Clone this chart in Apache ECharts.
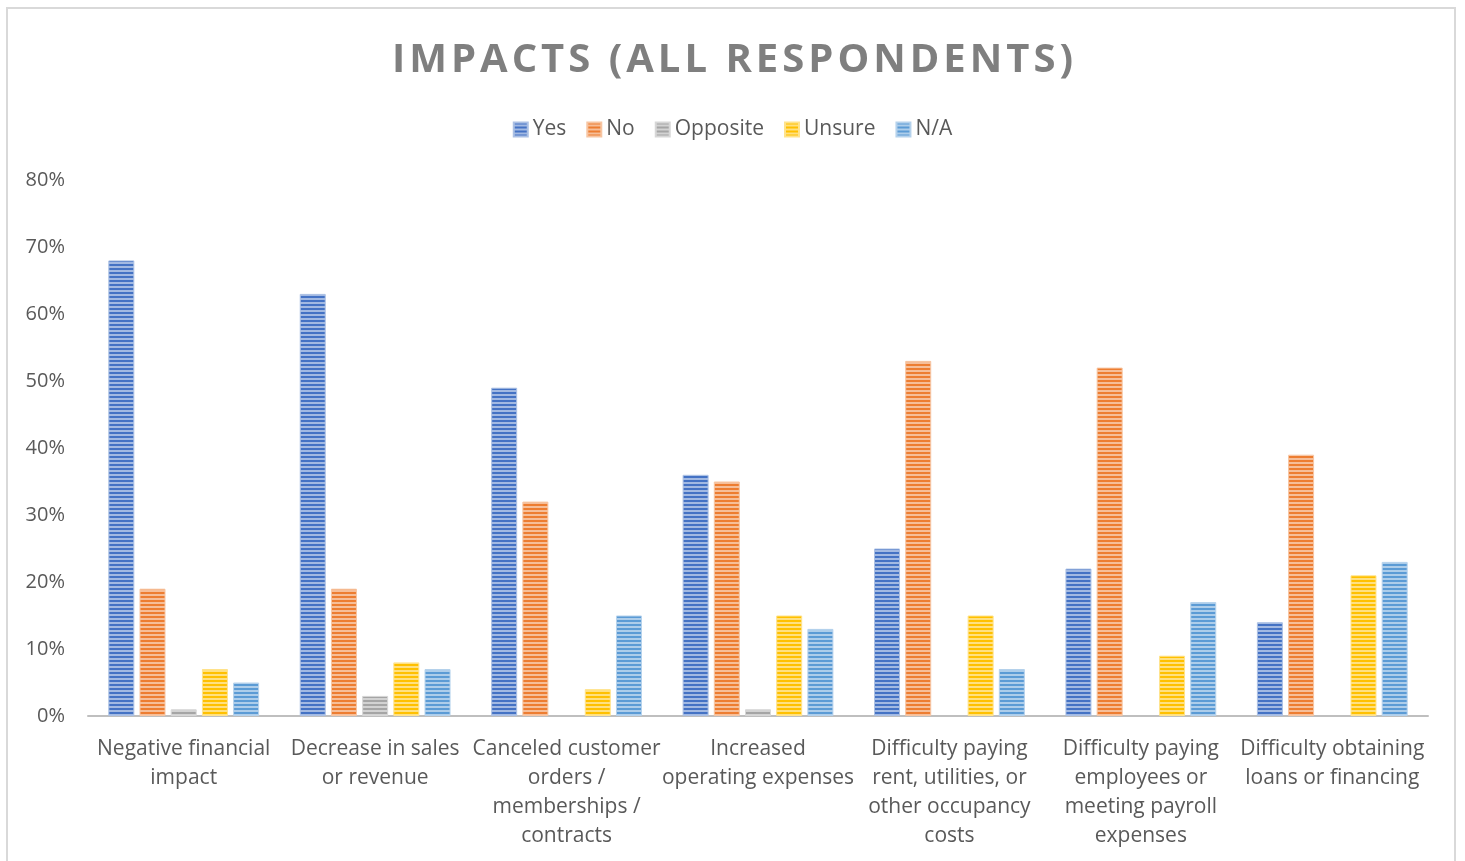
<!DOCTYPE html>
<html>
<head>
<meta charset="utf-8">
<script src="https://cdn.jsdelivr.net/npm/echarts@6/dist/echarts.min.js"></script>
<style>
html,body{margin:0;padding:0;background:#fff;}
#c{width:1465px;height:861px;}
#frame{position:absolute;left:6px;top:7px;width:1450px;height:870px;border:2px solid #d9d9d9;border-bottom:none;box-sizing:border-box;pointer-events:none;}
</style>
</head>
<body>
<div id="c"></div>
<div id="frame"></div>
<script>
const titleText = 'IMPACTS (ALL RESPONDENTS)';
const categories = [
  'Negative financial\nimpact',
  'Decrease in sales\nor revenue',
  'Canceled customer\norders /\nmemberships /\ncontracts',
  'Increased\noperating expenses',
  'Difficulty paying\nrent, utilities, or\nother occupancy\ncosts',
  'Difficulty paying\nemployees or\nmeeting payroll\nexpenses',
  'Difficulty obtaining\nloans or financing'
];
const seriesNames = ['Yes', 'No', 'Opposite', 'Unsure', 'N/A'];
const yesVals      = [68, 63, 49, 36, 25, 22, 14];
const noVals       = [19, 19, 32, 35, 53, 52, 39];
const oppositeVals = [1, 3, 0, 1, 0, 0, 0];
const unsureVals   = [7, 8, 4, 15, 15, 9, 21];
const naVals       = [5, 7, 15, 13, 7, 17, 23];
const yTicks = [0, 10, 20, 30, 40, 50, 60, 70, 80];

const baseColors = ['#4472C4', '#ED7D31', '#A5A5A5', '#FFC000', '#5B9BD5'];
const allVals = [yesVals, noVals, oppositeVals, unsureVals, naVals];

function tint(hex, f) {
  const n = parseInt(hex.slice(1), 16);
  const r = (n >> 16) & 255, g = (n >> 8) & 255, b = n & 255;
  const m = c => Math.round(c + (255 - c) * f);
  return 'rgb(' + m(r) + ',' + m(g) + ',' + m(b) + ')';
}
function stripe(hex) {
  const cv = document.createElement('canvas');
  cv.width = 4; cv.height = 4;
  const ctx = cv.getContext('2d');
  ctx.fillStyle = tint(hex, 0.5);
  ctx.fillRect(0, 0, 4, 4);
  ctx.fillStyle = hex;
  ctx.fillRect(0, 0, 4, 2);
  return { image: cv, repeat: 'repeat' };
}

let titleRich = '';
for (const ch of titleText) titleRich += '{t|' + ch + '}';

const chart = echarts.init(document.getElementById('c'), null, { renderer: 'canvas' });
chart.setOption({
  backgroundColor: '#ffffff',
  animation: false,
  title: {
    text: titleRich,
    left: 'center',
    top: 36,
    textStyle: {
      rich: {
        t: { fontFamily: 'Open Sans', fontWeight: 'bold', fontSize: 40, color: '#7f7f7f', padding: [0, 2, 0, 2] }
      }
    }
  },
  legend: {
    top: 114,
    left: 'center',
    itemWidth: 14,
    itemHeight: 14,
    itemGap: 20,
    icon: 'rect',
    textStyle: { fontFamily: 'Open Sans', fontSize: 21, color: '#595959' },
    data: seriesNames
  },
  grid: { left: 88, right: 37, top: 180, bottom: 145, containLabel: false },
  xAxis: {
    type: 'category',
    data: categories,
    axisLine: { show: true, lineStyle: { color: '#bfbfbf', width: 2 } },
    axisTick: { show: false },
    axisLabel: {
      interval: 0,
      margin: 19,
      fontFamily: 'Open Sans',
      fontSize: 21,
      lineHeight: 29,
      color: '#595959',
      align: 'center'
    }
  },
  yAxis: {
    type: 'value',
    min: 0,
    max: 80,
    interval: 10,
    axisLine: { show: false },
    axisTick: { show: false },
    splitLine: { show: false },
    axisLabel: {
      margin: 23,
      fontFamily: 'Open Sans',
      fontSize: 20,
      color: '#595959',
      formatter: v => yTicks.includes(v) ? v + '%' : ''
    }
  },
  series: seriesNames.map((name, i) => ({
    name: name,
    type: 'bar',
    data: allVals[i].map(v => v === 0 ? { value: v, itemStyle: { borderWidth: 0 } } : v),
    barWidth: 26,
    barGap: '20%',
    itemStyle: {
      color: stripe(baseColors[i]),
      borderColor: tint(baseColors[i], 0.55),
      borderWidth: 1
    }
  }))
});
</script>
</body>
</html>
